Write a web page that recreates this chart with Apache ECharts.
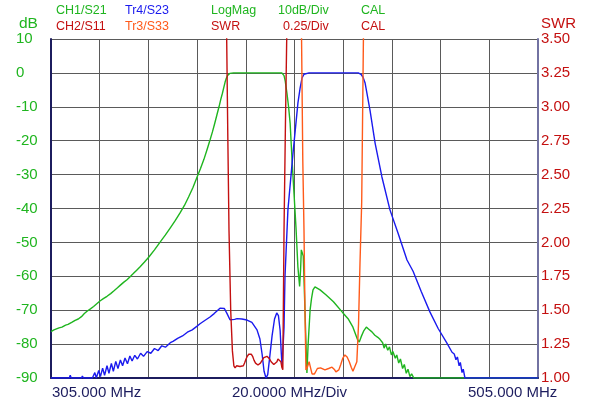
<!DOCTYPE html>
<html>
<head>
<meta charset="utf-8">
<script src="https://cdn.jsdelivr.net/npm/echarts@6/dist/echarts.min.js"></script>
<style>
  html, body { margin: 0; padding: 0; background: #fff; }
  #chart { width: 600px; height: 406px; }
</style>
</head>
<body>
<div id="chart"></div>
<script>
"use strict";

// sweep: 305 .. 505 MHz, 20 MHz/div
const startMHz = 305;
const stopMHz = 505;
const stepMHz = 20;

const dbTicks = [-90, 10, 10];      // min, max, step
const swrTicks = [1.0, 3.5, 0.25];  // min, max, step

const headerTop = ["CH1/S21", "Tr4/S23", "LogMag", "10dB/Div", "CAL"];
const headerBottom = ["CH2/S11", "Tr3/S33", "SWR", "0.25/Div", "CAL"];
const footerLabels = ["305.000 MHz", "20.0000 MHz/Div", "505.000 MHz"];

// CH1/S21, dB
const s21 = [
  [305, -76.3], [306.2, -75.8], [307, -75.9], [308.3, -75.2], [309.5, -75.0], [311, -74.4],
  [312, -74.2], [313.5, -73.6], [314.9, -73.0], [316.2, -72.6], [317.5, -71.9], [318.7, -71.0],
  [319.8, -70.3], [321.2, -69.6], [322.5, -68.9], [323.8, -68.1], [325.1, -67.3], [326.5, -66.6],
  [328, -65.9], [329.5, -65.1], [331, -64.2], [332.3, -63.4], [333.5, -62.6], [334.8, -61.8],
  [336.2, -61.0], [337.5, -60.1], [338.8, -59.2], [340.2, -58.2], [341.6, -57.2], [343.4, -55.8],
  [345.2, -54.3], [347.5, -52.2], [349.8, -49.9], [352, -47.8], [354, -45.7], [356, -43.6],
  [358, -41.3], [359.8, -39.1], [361.5, -36.6], [363.3, -33.8], [365, -30.7], [366.4, -28.2],
  [367.8, -25.5], [369.1, -22.6], [370.3, -19.8], [371.3, -17.4], [372.2, -15], [373.1, -12.5],
  [374, -10.0], [374.7, -7.9], [375.4, -6], [376, -4.2], [376.5, -2.7], [377, -1.6],
  [377.5, -0.8], [377.9, -0.4], [378.4, -0.15], [378.9, -0.04], [380, 0],
  [399.8, 0], [400.3, -0.2], [400.7, -0.8], [401.2, -2.4], [401.9, -6], [402.6, -10.2],
  [403.2, -14.8], [404.0, -25.7], [404.8, -35.6], [405.6, -45.5], [406.4, -57.3], [407.1, -63.0],
  [407.5, -58], [407.8, -52.2], [408.3, -52.6], [408.6, -54], [409.3, -70], [410.1, -88.5],
  [410.6, -80], [411.4, -70], [412, -66.5], [412.6, -64], [413.4, -63.1], [414.2, -63.4],
  [415.5, -64], [418, -65.5], [421, -67.5], [424.9, -70.8], [427, -72.5], [429, -75],
  [430.8, -78.5], [431.6, -79.4], [432.4, -77.8], [433.5, -76], [434.5, -75.0], [435.5, -75.6],
  [436.8, -76.4], [438, -77.4], [439.2, -78], [440.1, -78.6], [441.2, -79.6], [441.8, -81.2],
  [442.4, -80], [443.3, -81.8], [444, -80.8], [444.8, -83.2], [445.4, -82.2], [446.4, -84.2],
  [447, -83.2], [447.8, -85.6], [448.5, -84.4], [449.4, -87.2], [450.1, -86], [450.9, -88.6],
  [451.6, -87.4], [452.4, -89.6], [453.1, -88.8], [454, -90], [505, -90]
];

// Tr4/S23, dB
const s23 = [
  [305, -90], [312.5, -90], [312.9, -89.2], [313.3, -90], [317.5, -90], [317.9, -89.4],
  [318.3, -90], [322, -90], [323, -88.4], [323.6, -90], [324.6, -87.8], [325.3, -89.6],
  [326.2, -87.1], [327, -89.2], [328, -86.4], [328.8, -88.6], [329.8, -85.7], [330.6, -88],
  [331.6, -85.1], [332.5, -87.2], [333.5, -84.7], [334.4, -86.4], [335.4, -84.1], [336.4, -85.8],
  [337.4, -83.5], [338.3, -85], [339.4, -83.3], [340.5, -84.4], [341.8, -82.7], [343, -83.6],
  [344.5, -82.2], [346, -82.7], [347.5, -81.3], [349, -81.9], [350.5, -80.5], [352, -80.9],
  [354, -79.6], [355.1, -79.2], [357, -78.3], [359, -77.6], [361, -76.5], [363, -75.8],
  [365, -74.7], [366.2, -74.0], [368, -73.1], [370.3, -72.0], [372, -71.0], [374.4, -69.4],
  [375.2, -69.0], [376.2, -69.5], [377.3, -71], [378.5, -72.8], [379.3, -73.2], [380.4, -72.7],
  [381.4, -72.5], [383.4, -72.6], [385.5, -72.9], [387.5, -73.6], [389.6, -75.8], [390.8, -78.5],
  [391.7, -83], [392.5, -88], [393.3, -90], [394.0, -89], [394.8, -84], [395.8, -77.5],
  [396.8, -72.6], [397.7, -70.8], [398.4, -71.6], [399.1, -76], [399.6, -83], [399.9, -86.5],
  [400.3, -86], [400.7, -75], [401.1, -60], [402.3, -40.4], [404.4, -23.6], [406.4, -8.9],
  [407.3, -4.5], [408.1, -1.5], [408.9, -0.4], [409.7, -0.05], [411, 0], [431.2, 0],
  [432.3, -0.4], [433.1, -1.2], [434.0, -3], [436, -11], [438.1, -20.7], [440.9, -30.7],
  [444.2, -40.4], [447.5, -47.2], [451.2, -55.2], [453.7, -58.5], [457, -64.4], [460.6, -70.5],
  [464, -75.4], [467.6, -79.7], [469.7, -82.4], [470.6, -82.9], [471.3, -84.6], [471.9, -83.8],
  [472.6, -86.4], [473.1, -85.4], [473.8, -88.4], [474.3, -87.4], [475.0, -90], [505, -90]
];

// CH2/S11, SWR
const s11 = [
  [376.9, 3.8], [377.15, 3.5], [377.6, 2.8], [378.1, 2.09], [378.8, 1.5], [379.5, 1.2],
  [380.1, 1.09], [380.6, 1.074], [381.2, 1.09], [381.8, 1.096], [382.6, 1.085], [383.4, 1.08],
  [384, 1.09], [384.5, 1.11], [385.1, 1.14], [385.6, 1.16], [386.2, 1.175], [386.7, 1.18],
  [387.3, 1.175], [387.8, 1.16], [388.4, 1.13], [389, 1.11], [389.5, 1.1], [390, 1.096],
  [390.5, 1.1], [391, 1.11], [391.7, 1.13], [392.4, 1.15], [393, 1.158], [393.7, 1.16],
  [394.3, 1.155], [394.8, 1.14], [395.4, 1.12], [396, 1.11], [396.5, 1.1], [397, 1.10],
  [397.8, 1.12], [398.2, 1.14], [398.6, 1.15], [399, 1.14], [399.4, 1.12], [399.8, 1.08],
  [400.2, 1.06], [400.7, 2.09], [401.3, 2.9], [401.8, 3.5], [402.0, 3.8]
];

// Tr3/S33, SWR
const s33 = [
  [407.7, 3.8], [407.9, 3.5], [408.4, 2.61], [408.9, 2.09], [409.3, 1.5], [409.7, 1.06],
  [410.3, 1.08], [411.0, 1.12], [411.4, 1.09], [411.8, 1.06], [412.2, 1.03], [412.6, 1.02],
  [413.2, 1.03], [413.8, 1.05], [414.4, 1.07], [415.1, 1.08], [415.7, 1.075], [416.3, 1.065],
  [417.5, 1.06], [418.3, 1.065], [419, 1.07], [419.7, 1.078], [420.4, 1.08], [421, 1.07],
  [421.5, 1.06], [422, 1.045], [422.5, 1.04], [423.2, 1.06], [424, 1.1], [424.8, 1.145],
  [425.7, 1.17], [426.6, 1.155], [427.5, 1.12], [428.3, 1.08], [429, 1.05], [429.8, 1.04],
  [430.6, 1.12], [431.3, 1.4], [431.9, 1.85], [432.6, 2.3], [433.3, 3.5], [433.6, 3.8]
];

const green = "#1fb51f";
const blue = "#1a1aee";
const darkRed = "#c41010";
const orange = "#ff5a1a";
const navy = "#1c1c5e";
const fontFamily = "'Liberation Sans', Arial, sans-serif";

// axis runs in MHz from sweep start so that ticks line up with min
const toAxis = (points) => points.map(([f, v]) => [f - startMHz, v]);

const makeLine = (name, points, color, yAxisIndex) => ({
  name: name,
  type: "line",
  yAxisIndex: yAxisIndex,
  data: toAxis(points),
  showSymbol: false,
  symbol: "none",
  clip: true,
  lineStyle: { color: color, width: 1.4 },
  z: 3
});

const headerText = (text, x, y, color) => ({
  type: "text",
  x: x,
  y: y,
  style: {
    text: text,
    fill: color,
    fontSize: 12.5,
    fontFamily: fontFamily,
    align: "left",
    verticalAlign: "middle"
  }
});

const headerX = [56, 125, 211, 278, 361];
const headerBottomX = [56, 125, 211, 283, 361];
const topColors = [green, blue, green, green, green];
const bottomColors = [darkRed, orange, darkRed, darkRed, darkRed];

let graphics = [];
headerTop.forEach((t, i) => graphics.push(headerText(t, headerX[i], 11, topColors[i])));
headerBottom.forEach((t, i) => graphics.push(headerText(t, headerBottomX[i], 27, bottomColors[i])));

const footerX = [52, 232, 468];
footerLabels.forEach((t, i) => {
  graphics.push({
    type: "text",
    x: footerX[i],
    y: 393,
    style: { text: t, fill: navy, fontSize: 15, fontFamily: fontFamily, align: "left", verticalAlign: "middle" }
  });
});

graphics.push({
  type: "text", x: 19, y: 24,
  style: { text: "dB", fill: green, fontSize: 15.5, fontFamily: fontFamily, align: "left", verticalAlign: "middle" }
});
graphics.push({
  type: "text", x: 541, y: 23.5,
  style: { text: "SWR", fill: darkRed, fontSize: 15, fontFamily: fontFamily, align: "left", verticalAlign: "middle" }
});

const chart = echarts.init(document.getElementById("chart"), null, { renderer: "canvas" });

chart.setOption({
  animation: false,
  backgroundColor: "#ffffff",
  grid: { left: 51, right: 62, top: 39, bottom: 28, containLabel: false },
  xAxis: {
    type: "value",
    min: 0,
    max: stopMHz - startMHz,
    interval: stepMHz,
    axisLine: { show: true, onZero: false, lineStyle: { color: navy, width: 2 } },
    axisTick: { show: false },
    axisLabel: { show: false },
    splitLine: { show: true, lineStyle: { color: "#5a5a5a", width: 1 } }
  },
  yAxis: [
    {
      type: "value",
      position: "left",
      min: dbTicks[0],
      max: dbTicks[1],
      interval: dbTicks[2],
      axisLine: { show: true, lineStyle: { color: navy, width: 2 } },
      axisTick: { show: false },
      axisLabel: {
        color: green,
        fontSize: 15,
        fontFamily: fontFamily,
        align: "left",
        margin: 35
      },
      splitLine: { show: true, lineStyle: { color: "#5a5a5a", width: 1 } }
    },
    {
      type: "value",
      position: "right",
      min: swrTicks[0],
      max: swrTicks[1],
      interval: swrTicks[2],
      axisLine: { show: true, lineStyle: { color: "#7272a2", width: 2 } },
      axisTick: { show: false },
      axisLabel: {
        color: darkRed,
        fontSize: 15,
        fontFamily: fontFamily,
        margin: 3,
        formatter: (v) => v.toFixed(2)
      },
      splitLine: { show: false }
    }
  ],
  graphic: graphics,
  series: [
    makeLine("CH1/S21", s21, green, 0),
    makeLine("Tr4/S23", s23, blue, 0),
    makeLine("CH2/S11", s11, darkRed, 1),
    makeLine("Tr3/S33", s33, orange, 1)
  ]
});
</script>
</body>
</html>
